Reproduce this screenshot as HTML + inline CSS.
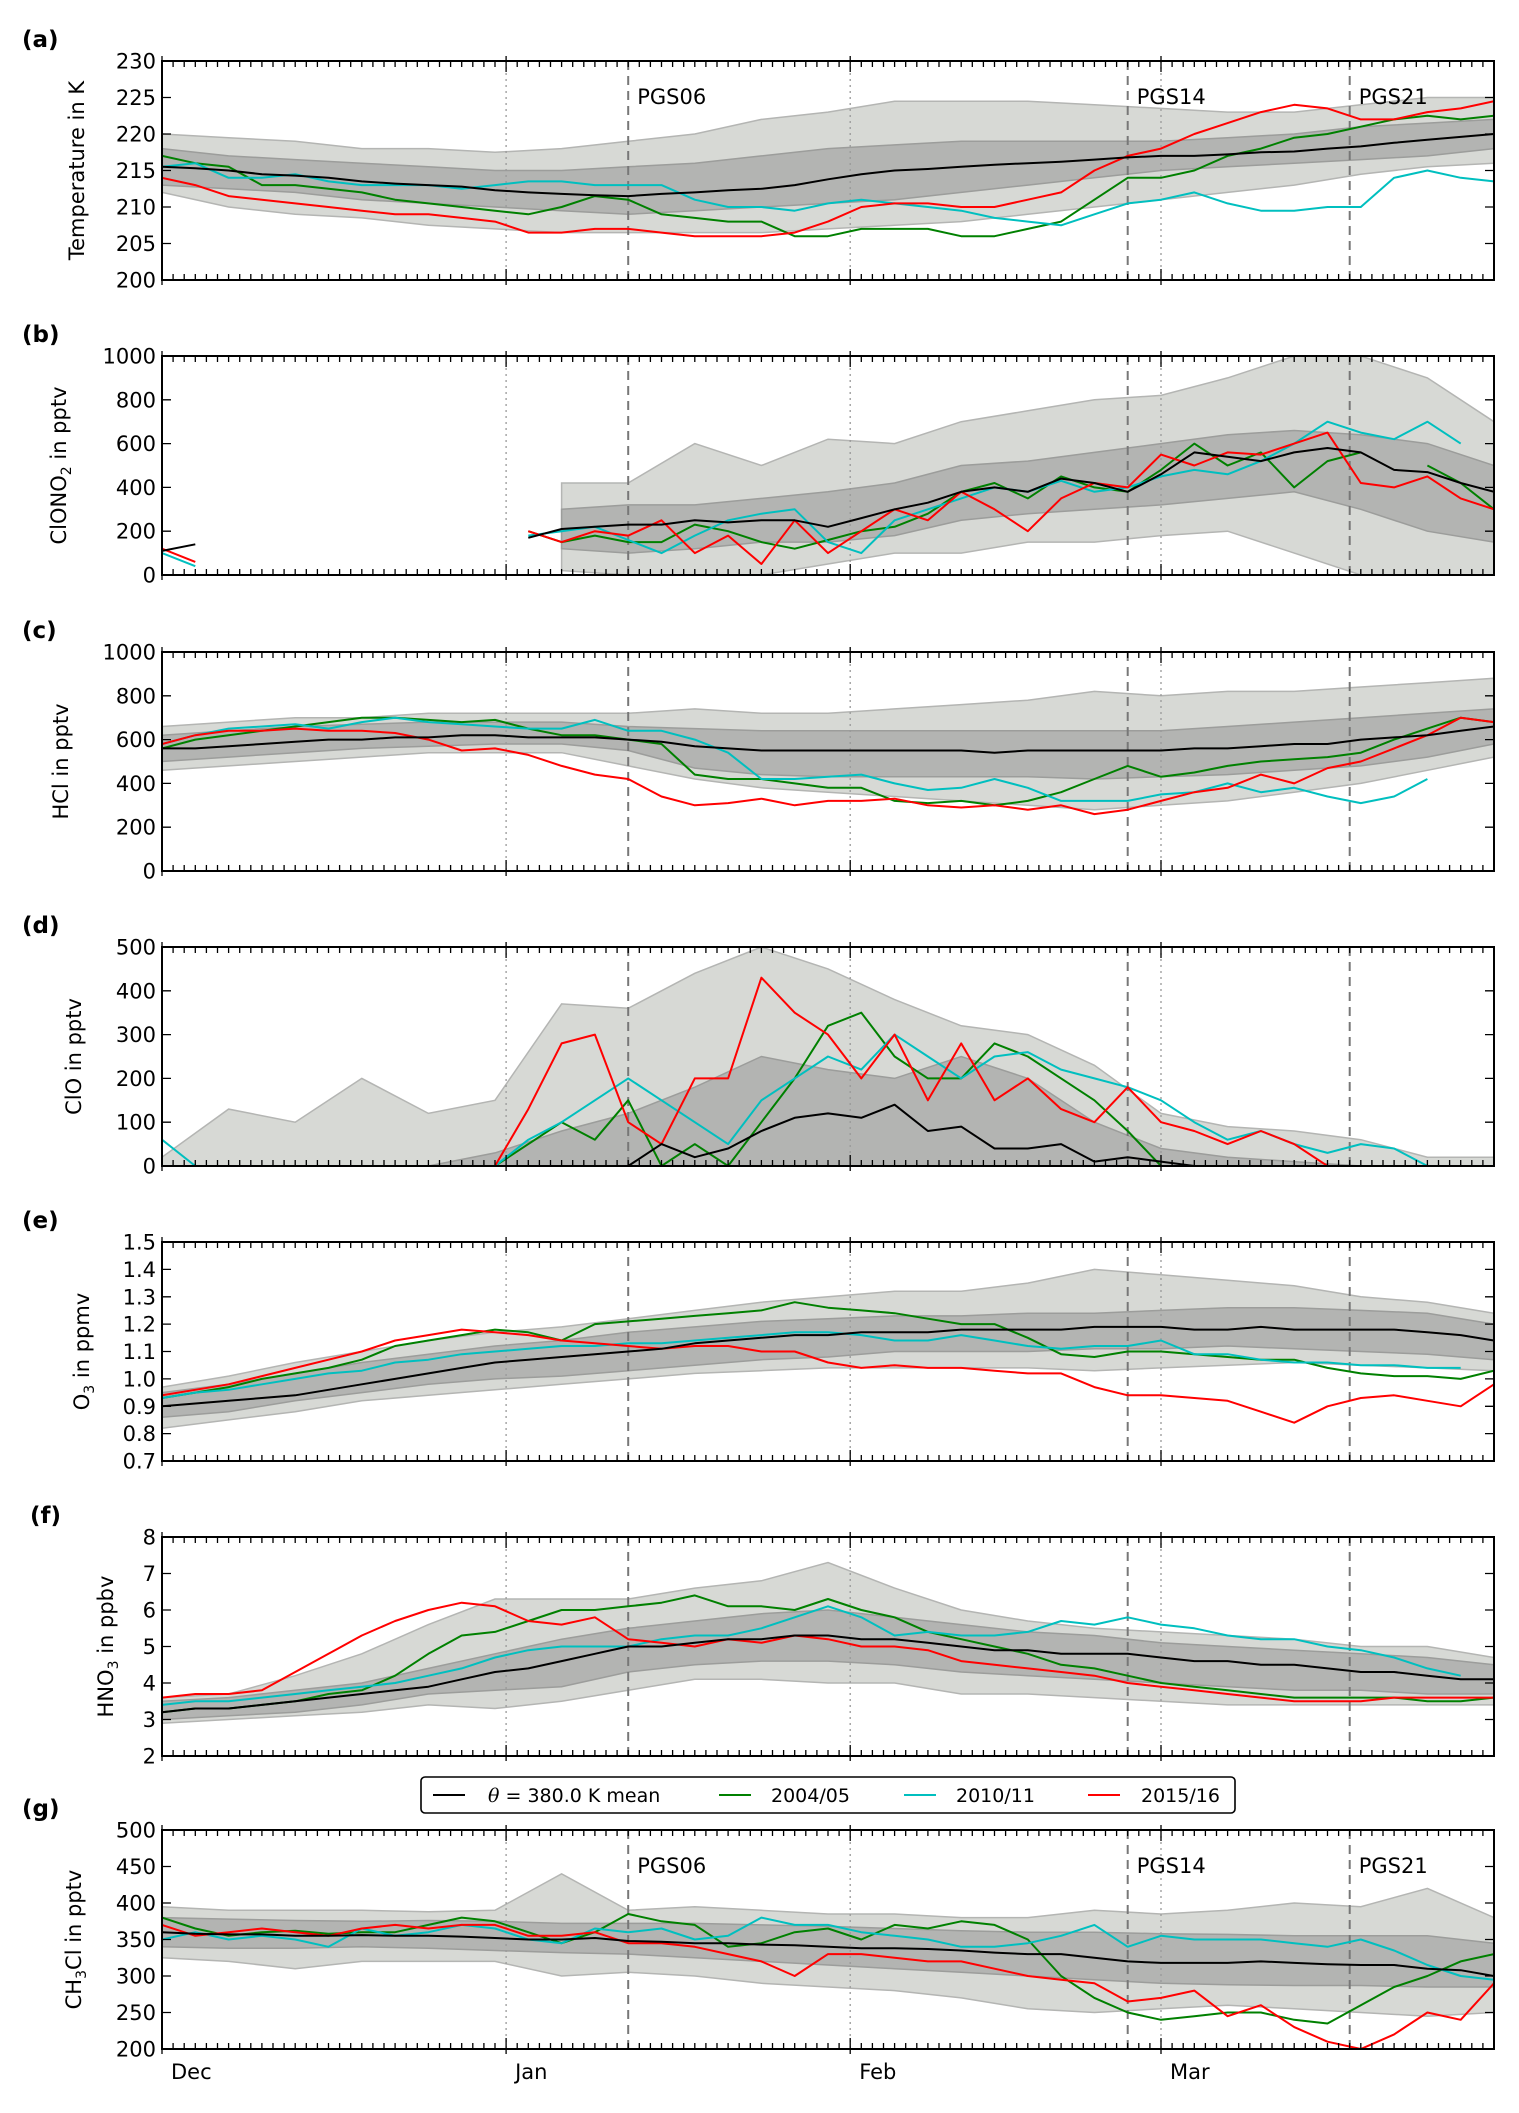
<!DOCTYPE html>
<html><head><meta charset="utf-8"><title>Stratospheric trace gases at 380 K</title>
<style>
html,body{margin:0;padding:0;background:#fff;}
svg{display:block;font-family:"DejaVu Sans","Liberation Sans",sans-serif;}
</style></head>
<body>
<svg id="fig" width="1519" height="2113" viewBox="0 0 1519 2113" xmlns="http://www.w3.org/2000/svg">
<rect x="0" y="0" width="1519" height="2113" fill="#fff"/>
</svg>
<script>
// ---- shared x categories (days since 1 Dec) ----
const days = [0,3,6,9,12,15,18,21,24,27,30,33,36,39,42,45,48,51,54,57,60,63,66,69,72,75,78,81,84,87,90,93,96,99,102,105,108,111,114,117,120];
const bandDays = [0,6,12,18,24,30,36,42,48,54,60,66,72,78,84,90,96,102,108,114,120];
const monthTicks = [0,31,62,90];
const monthLabels = ["Dec","Jan","Feb","Mar"];
const campaignDays = [42,87,107];
const campaignLabels = ["PGS06","PGS14","PGS21"];
const N = null;

// ---- (a) temperature ----
const aMean = [215.5,215.3,215,214.5,214.3,214,213.5,213.2,213,212.8,212.3,212,211.8,211.6,211.5,211.8,212,212.3,212.5,213,213.8,214.5,215,215.2,215.5,215.8,216,216.2,216.5,216.8,217,217,217.2,217.5,217.6,218,218.3,218.8,219.2,219.6,220];
const aY04 = [217,216,215.5,213,213,212.5,212,211,210.5,210,209.5,209,210,211.5,211,209,208.5,208,208,206,206,207,207,207,206,206,207,208,211,214,214,215,217,218,219.5,220,221,222,222.5,222,222.5];
const aY10 = [215.5,216,214,214,214.5,213.5,213,213,213,212.5,213,213.5,213.5,213,213,213,211,210,210,209.5,210.5,211,210.5,210,209.5,208.5,208,207.5,209,210.5,211,212,210.5,209.5,209.5,210,210,214,215,214,213.5];
const aY15 = [214,213,211.5,211,210.5,210,209.5,209,209,208.5,208,206.5,206.5,207,207,206.5,206,206,206,206.5,208,210,210.5,210.5,210,210,211,212,215,217,218,220,221.5,223,224,223.5,222,222,223,223.5,224.5];
const aHi1 = [218,217,216.5,216,215.5,215,215,215.5,216,217,218,218.5,219,219,219,219,219.5,220,221,221.5,222];
const aLo1 = [213,212.5,212,211,210.5,210,209.5,209,209.5,210,210.5,211,212,213,214,215,215.5,216,216.5,217,218];
const aHi2 = [220,219.5,219,218,218,217.5,218,219,220,222,223,224.5,224.5,224.5,224,223.5,223,223,224,225,225];
const aLo2 = [212,210,209,208.5,207.5,207,206.5,206.5,206.5,206.5,207,207.5,208,209,210,211,212,213,214.5,215.5,216];
const aTicks = [200,205,210,215,220,225,230];

// ---- (b) ClONO2 ----
const bMean = [110,140,N,N,N,N,N,N,N,N,N,170,210,220,230,230,250,240,250,250,220,260,300,330,380,400,380,440,420,380,460,560,540,520,560,580,560,480,470,420,380];
const bY04 = [N,N,N,N,N,N,N,N,N,N,N,200,150,180,150,150,230,200,150,120,160,200,220,280,380,420,350,450,400,380,480,600,500,560,400,520,560,N,500,420,300];
const bY10 = [100,40,N,N,N,N,N,N,N,N,N,180,200,220,160,100,180,250,280,300,150,100,250,300,350,400,380,430,380,400,450,480,460,520,600,700,650,620,700,600,N];
const bY15 = [120,60,N,N,N,N,N,N,N,N,N,200,150,200,180,250,100,180,50,250,100,200,300,250,380,300,200,350,420,400,550,500,560,550,600,650,420,400,450,350,300];
const bHi1 = [N,N,N,N,N,N,300,320,320,350,380,420,500,520,560,600,640,660,640,600,500];
const bLo1 = [N,N,N,N,N,N,120,100,120,150,150,180,250,280,300,320,350,380,300,200,150];
const bHi2 = [N,N,N,N,N,N,420,420,600,500,620,600,700,750,800,820,900,1000,1000,900,700];
const bLo2 = [N,N,N,N,N,N,20,0,0,0,50,100,100,150,150,180,200,100,0,0,0];
const bTicks = [0,200,400,600,800,1000];

// ---- (c) HCl ----
const cMean = [560,560,570,580,590,600,600,610,610,620,620,610,610,610,600,590,570,560,550,550,550,550,550,550,550,540,550,550,550,550,550,560,560,570,580,580,600,610,620,640,660];
const cY04 = [560,600,620,640,660,680,700,700,690,680,690,650,620,620,600,580,440,420,420,400,380,380,320,310,320,300,320,360,420,480,430,450,480,500,510,520,540,600,650,700,680];
const cY10 = [580,620,650,660,670,650,680,700,680,670,660,650,650,690,640,640,600,540,420,420,430,440,400,370,380,420,380,320,320,320,350,360,400,360,380,340,310,340,420,N,N];
const cY15 = [580,620,640,640,650,640,640,630,600,550,560,530,480,440,420,340,300,310,330,300,320,320,330,300,290,300,280,300,260,280,320,360,380,440,400,470,500,560,620,700,680];
const cHi1 = [620,640,660,670,680,680,680,660,650,640,640,640,640,640,640,640,660,680,700,720,740];
const cLo1 = [500,520,540,560,570,580,580,550,470,440,430,430,430,430,420,430,440,460,480,520,580];
const cHi2 = [660,680,700,700,720,720,720,720,740,720,720,740,760,780,820,800,820,820,840,860,880];
const cLo2 = [460,480,500,520,540,540,540,480,420,380,360,340,320,300,280,300,320,360,400,460,520];
const cTicks = [0,200,400,600,800,1000];

// ---- (d) ClO ----
const dMean = [N,N,N,N,N,N,N,N,N,N,N,N,N,0,0,50,20,40,80,110,120,110,140,80,90,40,40,50,10,20,10,0,N,N,N,N,N,N,N,N,N];
const dY04 = [0,0,0,0,0,0,0,0,0,0,0,50,100,60,150,0,50,0,100,200,320,350,250,200,200,280,250,200,150,80,0,0,0,0,0,0,0,0,0,0,0];
const dY10 = [60,0,0,0,0,0,0,0,0,0,0,60,100,150,200,150,100,50,150,200,250,220,300,250,200,250,260,220,200,180,150,100,60,80,50,30,50,40,0,0,0];
const dY15 = [0,0,0,0,0,0,0,0,0,0,0,130,280,300,100,50,200,200,430,350,300,200,300,150,280,150,200,130,100,180,100,80,50,80,50,0,0,0,0,0,0];
const dHi1 = [0,0,0,0,0,30,80,120,180,250,220,200,250,200,100,40,20,10,0,0,0];
const dLo1 = [0,0,0,0,0,0,0,0,0,0,0,0,0,0,0,0,0,0,0,0,0];
const dHi2 = [20,130,100,200,120,150,370,360,440,500,450,380,320,300,230,120,90,80,60,20,20];
const dLo2 = [0,0,0,0,0,0,0,0,0,0,0,0,0,0,0,0,0,0,0,0,0];
const dTicks = [0,100,200,300,400,500];

// ---- (e) O3 ----
const eMean = [0.90,0.91,0.92,0.93,0.94,0.96,0.98,1.0,1.02,1.04,1.06,1.07,1.08,1.09,1.10,1.11,1.13,1.14,1.15,1.16,1.16,1.17,1.17,1.17,1.18,1.18,1.18,1.18,1.19,1.19,1.19,1.18,1.18,1.19,1.18,1.18,1.18,1.18,1.17,1.16,1.14];
const eY04 = [0.93,0.95,0.97,1.00,1.02,1.04,1.07,1.12,1.14,1.16,1.18,1.17,1.14,1.20,1.21,1.22,1.23,1.24,1.25,1.28,1.26,1.25,1.24,1.22,1.20,1.20,1.15,1.09,1.08,1.10,1.10,1.09,1.08,1.07,1.07,1.04,1.02,1.01,1.01,1.00,1.03];
const eY10 = [0.93,0.95,0.96,0.98,1.00,1.02,1.03,1.06,1.07,1.09,1.10,1.11,1.12,1.12,1.13,1.13,1.14,1.15,1.16,1.17,1.17,1.16,1.14,1.14,1.16,1.14,1.12,1.11,1.12,1.12,1.14,1.09,1.09,1.07,1.06,1.06,1.05,1.05,1.04,1.04,N];
const eY15 = [0.94,0.96,0.98,1.01,1.04,1.07,1.10,1.14,1.16,1.18,1.17,1.16,1.14,1.13,1.12,1.11,1.12,1.12,1.10,1.10,1.06,1.04,1.05,1.04,1.04,1.03,1.02,1.02,0.97,0.94,0.94,0.93,0.92,0.88,0.84,0.90,0.93,0.94,0.92,0.90,0.98];
const eHi1 = [0.95,0.98,1.02,1.06,1.09,1.12,1.14,1.17,1.19,1.21,1.22,1.23,1.23,1.24,1.24,1.25,1.26,1.26,1.25,1.24,1.20];
const eLo1 = [0.86,0.88,0.92,0.95,0.98,1.00,1.01,1.03,1.05,1.07,1.08,1.10,1.10,1.10,1.11,1.11,1.12,1.11,1.10,1.09,1.07];
const eHi2 = [0.97,1.01,1.06,1.10,1.14,1.17,1.19,1.22,1.25,1.28,1.30,1.32,1.32,1.35,1.40,1.38,1.36,1.34,1.30,1.28,1.24];
const eLo2 = [0.82,0.85,0.88,0.92,0.94,0.96,0.98,1.00,1.02,1.03,1.04,1.04,1.04,1.04,1.03,1.04,1.05,1.06,1.05,1.04,1.03];
const eTicks = [0.7,0.8,0.9,1.0,1.1,1.2,1.3,1.4,1.5];

// ---- (f) HNO3 ----
const fMean = [3.2,3.3,3.3,3.4,3.5,3.6,3.7,3.8,3.9,4.1,4.3,4.4,4.6,4.8,5.0,5.0,5.1,5.2,5.2,5.3,5.3,5.2,5.2,5.1,5.0,4.9,4.9,4.8,4.8,4.8,4.7,4.6,4.6,4.5,4.5,4.4,4.3,4.3,4.2,4.1,4.1];
const fY04 = [3.2,3.3,3.3,3.4,3.5,3.7,3.8,4.2,4.8,5.3,5.4,5.7,6.0,6.0,6.1,6.2,6.4,6.1,6.1,6.0,6.3,6.0,5.8,5.4,5.2,5.0,4.8,4.5,4.4,4.2,4.0,3.9,3.8,3.7,3.6,3.6,3.6,3.6,3.5,3.5,3.6];
const fY10 = [3.4,3.5,3.5,3.6,3.7,3.8,3.9,4.0,4.2,4.4,4.7,4.9,5.0,5.0,5.0,5.2,5.3,5.3,5.5,5.8,6.1,5.8,5.3,5.4,5.3,5.3,5.4,5.7,5.6,5.8,5.6,5.5,5.3,5.2,5.2,5.0,4.9,4.7,4.4,4.2,N];
const fY15 = [3.6,3.7,3.7,3.8,4.3,4.8,5.3,5.7,6.0,6.2,6.1,5.7,5.6,5.8,5.2,5.1,5.0,5.2,5.1,5.3,5.2,5.0,5.0,4.9,4.6,4.5,4.4,4.3,4.2,4.0,3.9,3.8,3.7,3.6,3.5,3.5,3.5,3.6,3.6,3.6,3.6];
const fHi1 = [3.5,3.6,3.8,4.0,4.4,4.8,5.2,5.5,5.7,5.9,6.0,5.8,5.6,5.4,5.3,5.1,5.0,4.9,4.8,4.7,4.5];
const fLo1 = [3.0,3.1,3.2,3.4,3.7,3.8,3.9,4.3,4.5,4.6,4.6,4.5,4.3,4.2,4.1,4.0,3.9,3.8,3.8,3.7,3.7];
const fHi2 = [3.6,3.7,4.2,4.8,5.6,6.3,6.3,6.3,6.6,6.8,7.3,6.6,6.0,5.7,5.5,5.4,5.3,5.2,5.0,5.0,4.7];
const fLo2 = [2.9,3.0,3.1,3.2,3.4,3.3,3.5,3.8,4.1,4.1,4.0,4.0,3.7,3.7,3.6,3.5,3.4,3.4,3.4,3.4,3.4];
const fTicks = [2,3,4,5,6,7,8];

// ---- (g) CH3Cl ----
const gMean = [360,358,357,357,355,355,356,355,355,354,352,350,350,352,348,347,345,345,343,342,340,338,338,337,335,332,330,330,325,320,318,318,318,320,318,316,315,315,310,308,300];
const gY04 = [380,365,355,360,362,358,360,360,370,380,375,360,345,360,385,375,370,340,345,360,365,350,370,365,375,370,350,300,270,250,240,245,250,250,240,235,260,285,300,320,330];
const gY10 = [350,360,350,355,350,340,365,355,360,370,365,350,345,365,360,365,350,355,380,370,370,360,355,350,340,340,345,355,370,340,355,350,350,350,345,340,350,335,315,300,295];
const gY15 = [370,355,360,365,360,355,365,370,365,370,370,355,355,360,345,345,340,330,320,300,330,330,325,320,320,310,300,295,290,265,270,280,245,260,230,210,200,220,250,240,290];
const gHi1 = [380,378,376,375,376,375,372,372,372,370,368,365,362,360,360,358,357,355,355,355,345];
const gLo1 = [340,338,338,340,338,335,332,330,325,320,315,310,305,300,295,290,288,287,287,285,285];
const gHi2 = [395,390,390,390,388,390,440,390,395,390,385,385,380,380,390,385,390,400,395,420,380];
const gLo2 = [325,320,310,320,320,320,300,305,300,290,285,280,270,255,250,255,260,255,250,245,250];
const gTicks = [200,250,300,350,400,450,500];

const NS = "http://www.w3.org/2000/svg";
const svg = document.getElementById('fig');
const L = 162, R = 1494, H = 219, DMAX = 120;
function xs(d){ return L + (R - L) * d / DMAX; }
function mk(tag, attrs, parent){
  const e = document.createElementNS(NS, tag);
  for (const k in attrs) e.setAttribute(k, attrs[k]);
  (parent || svg).appendChild(e);
  return e;
}
function linePath(xv, yv, ys){
  let d = "", pen = false;
  for (let i = 0; i < xv.length; i++){
    if (yv[i] === null){ pen = false; continue; }
    d += (pen ? "L" : "M") + xs(xv[i]).toFixed(1) + " " + ys(yv[i]).toFixed(1) + " ";
    pen = true;
  }
  return d;
}
function areaPath(xv, lo, hi, ys){
  let d = "", seg = [];
  const flush = () => {
    if (seg.length > 1){
      d += "M" + seg.map(i => xs(xv[i]).toFixed(1) + " " + ys(hi[i]).toFixed(1)).join(" L");
      d += " L" + seg.slice().reverse().map(i => xs(xv[i]).toFixed(1) + " " + ys(lo[i]).toFixed(1)).join(" L") + " Z ";
    }
    seg = [];
  };
  for (let i = 0; i < xv.length; i++){
    if (lo[i] === null || hi[i] === null) flush(); else seg.push(i);
  }
  flush();
  return d;
}

const panels = [
  {id:"a", top:61,  min:200, max:230, ticks:aTicks, fmt:v=>String(v), label:["Temperature in K"], lx:84, letterX:22,
   mean:aMean, y04:aY04, y10:aY10, y15:aY15, hi1:aHi1, lo1:aLo1, hi2:aHi2, lo2:aLo2, pgs:true},
  {id:"b", top:356, min:0, max:1000, ticks:bTicks, fmt:v=>String(v), label:["ClONO","2"," in pptv"], lx:66, letterX:22,
   mean:bMean, y04:bY04, y10:bY10, y15:bY15, hi1:bHi1, lo1:bLo1, hi2:bHi2, lo2:bLo2},
  {id:"c", top:652, min:0, max:1000, ticks:cTicks, fmt:v=>String(v), label:["HCl in pptv"], lx:68, letterX:22,
   mean:cMean, y04:cY04, y10:cY10, y15:cY15, hi1:cHi1, lo1:cLo1, hi2:cHi2, lo2:cLo2},
  {id:"d", top:947, min:0, max:500, ticks:dTicks, fmt:v=>String(v), label:["ClO in pptv"], lx:81, letterX:22,
   mean:dMean, y04:dY04, y10:dY10, y15:dY15, hi1:dHi1, lo1:dLo1, hi2:dHi2, lo2:dLo2},
  {id:"e", top:1242, min:0.7, max:1.5, ticks:eTicks, fmt:v=>v.toFixed(1), label:["O","3"," in ppmv"], lx:89, letterX:22,
   mean:eMean, y04:eY04, y10:eY10, y15:eY15, hi1:eHi1, lo1:eLo1, hi2:eHi2, lo2:eLo2},
  {id:"f", top:1537, min:2, max:8, ticks:fTicks, fmt:v=>String(v), label:["HNO","3"," in ppbv"], lx:113, letterX:30,
   mean:fMean, y04:fY04, y10:fY10, y15:fY15, hi1:fHi1, lo1:fLo1, hi2:fHi2, lo2:fLo2},
  {id:"g", top:1830, min:200, max:500, ticks:gTicks, fmt:v=>String(v), label:["CH","3","Cl in pptv"], lx:81, letterX:22,
   mean:gMean, y04:gY04, y10:gY10, y15:gY15, hi1:gHi1, lo1:gLo1, hi2:gHi2, lo2:gLo2, pgs:true, xlabels:true}
];

const defs = mk('defs', {});
panels.forEach(p => {
  const top = p.top, bot = p.top + H;
  const ys = v => bot - (v - p.min) / (p.max - p.min) * H;
  const g = mk('g', {});
  
  
  const cp = mk('clipPath', {id:'clip-' + p.id}, defs);
  mk('rect', {x:L, y:top, width:R-L, height:H}, cp);
  const plot = mk('g', {'clip-path':'url(#clip-' + p.id + ')'}, g);

  const band2 = mk('path', {d:areaPath(bandDays, p.lo2, p.hi2, ys), fill:'#d7d9d5', stroke:'#b4b5b3', 'stroke-width':1.5}, plot);
  
  
  const band1 = mk('path', {d:areaPath(bandDays, p.lo1, p.hi1, ys), fill:'#b3b4b2', stroke:'#9c9d9b', 'stroke-width':1.5}, plot);
  
  

  monthTicks.slice(1).forEach(m => {
    const v = mk('line', {x1:xs(m), x2:xs(m), y1:top, y2:bot, stroke:'#999', 'stroke-width':1.3, 'stroke-dasharray':'2 4'}, plot);
    
    
  });
  campaignDays.forEach(c => {
    const v = mk('line', {x1:xs(c), x2:xs(c), y1:top, y2:bot, stroke:'#777', 'stroke-width':2, 'stroke-dasharray':'9 6'}, plot);
    
    
  });

  [[p.y04,'#008000','series-2004-05'],[p.y10,'#00bfbf','series-2010-11'],[p.y15,'#ff0000','series-2015-16'],[p.mean,'#000','series-mean']].forEach(s => {
    const pa = mk('path', {d:linePath(days, s[0], ys), fill:'none', stroke:s[1], 'stroke-width':2, 'stroke-linejoin':'round'}, plot);
    
    
  });

  // frame
  const fr = mk('rect', {x:L, y:top, width:R-L, height:H, fill:'none', stroke:'#000', 'stroke-width':2}, g);
  
  

  // x ticks
  let td = "";
  for (let d = 0; d <= DMAX; d++){
    const major = monthTicks.indexOf(d) >= 0;
    const len = major ? 11 : 6;
    const x = xs(d).toFixed(1);
    td += "M" + x + " " + bot + " V" + (bot - len) + " M" + x + " " + top + " V" + (top + len) + " ";
    if (major){ td += "M" + x + " " + bot + " V" + (bot + 5) + " M" + x + " " + top + " V" + (top - 5) + " "; }
  }
  // y ticks
  p.ticks.forEach(t => {
    const y = ys(t).toFixed(1);
    td += "M" + L + " " + y + " H" + (L + 9) + " M" + R + " " + y + " H" + (R - 9) + " ";
  });
  const tk = mk('path', {d:td, stroke:'#000', 'stroke-width':1.3, fill:'none'}, g);
  
  

  p.ticks.forEach(t => {
    const tl = mk('text', {x:L - 6, y:ys(t) + 7.5, 'text-anchor':'end', 'font-size':21}, g);
    tl.textContent = p.fmt(t);
    
    
  });

  // y label
  const yl = mk('text', {x:0, y:0, 'text-anchor':'middle', 'font-size':21, transform:'translate(' + p.lx + ',' + (top + H/2) + ') rotate(-90)'}, g);
  
  
  if (p.label.length === 1){ yl.textContent = p.label[0]; }
  else {
    const t1 = mk('tspan', {}, yl); t1.textContent = p.label[0];
    const t2 = mk('tspan', {'font-size':14, dy:5}, yl); t2.textContent = p.label[1];
    const t3 = mk('tspan', {dy:-5}, yl); t3.textContent = p.label[2];
  }

  const pl = mk('text', {x:p.letterX, y:top - 14, 'font-size':23, 'font-weight':'bold'}, g);
  pl.textContent = '(' + p.id + ')';
  
  

  if (p.pgs){
    campaignDays.forEach((c, i) => {
      const ct = mk('text', {x:xs(c) + 9, y:top + 43, 'font-size':21}, g);
      ct.textContent = campaignLabels[i];
      
      
    });
  }
  if (p.xlabels){
    monthTicks.forEach((m, i) => {
      const xl = mk('text', {x:xs(m) + 9, y:bot + 30, 'font-size':21}, g);
      xl.textContent = monthLabels[i];
      
      
    });
  }
});

// legend
const lg = mk('g', {});


mk('rect', {x:421, y:1777, width:814, height:36, rx:4, fill:'#fff', stroke:'#000', 'stroke-width':1.6}, lg);
const legendItems = [
  {c:'#000', x1:433, tx:488, t:' = 380.0 K mean', theta:true},
  {c:'#008000', x1:719, tx:771, t:'2004/05'},
  {c:'#00bfbf', x1:904, tx:956, t:'2010/11'},
  {c:'#ff0000', x1:1088, tx:1141, t:'2015/16'}
];
legendItems.forEach(it => {
  const e = mk('g', {}, lg);
  
  
  mk('line', {x1:it.x1, x2:it.x1 + 32, y1:1795, y2:1795, stroke:it.c, 'stroke-width':2}, e);
  const t = mk('text', {x:it.tx, y:1802, 'font-size':19}, e);
  if (it.theta){
    const th = mk('tspan', {'font-style':'italic', 'font-family':'"DejaVu Serif",serif'}, t); th.textContent = 'θ';
    const rest = mk('tspan', {}, t); rest.textContent = it.t;
  } else t.textContent = it.t;
});
</script>
</body></html>
